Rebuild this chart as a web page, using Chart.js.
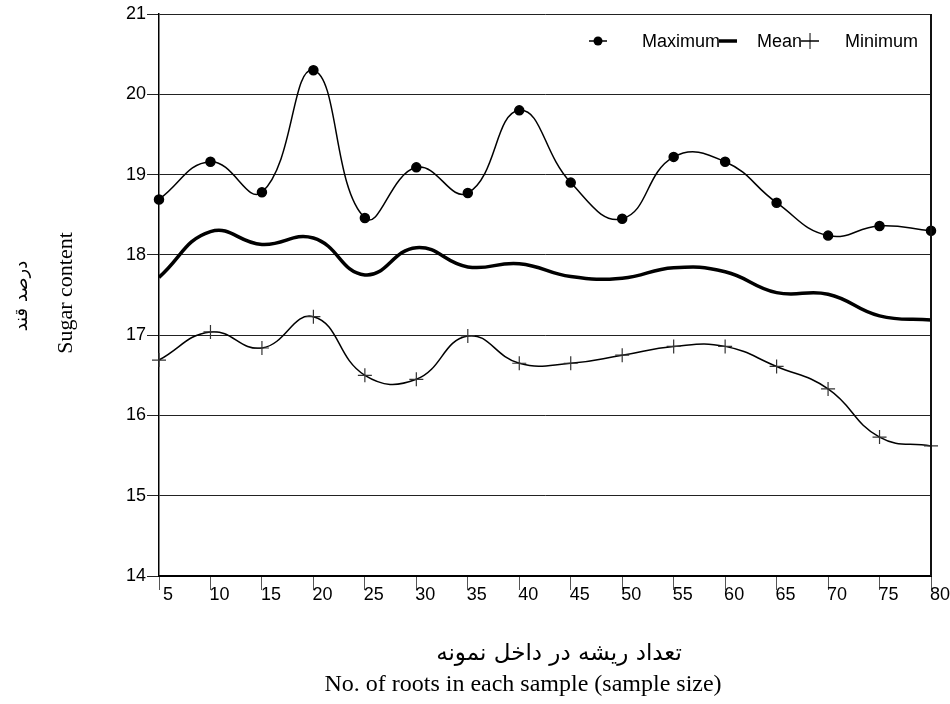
<!DOCTYPE html>
<html>
<head>
<meta charset="utf-8">
<script src="https://cdn.jsdelivr.net/npm/chart.js@4.4.1/dist/chart.umd.min.js"></script>
<style>
  html, body { margin: 0; padding: 0; background: #fff; }
  #wrap { width: 950px; height: 704px; }
</style>
</head>
<body>
<div id="wrap"><canvas id="sugar-chart" width="950" height="704"></canvas></div>
<script>
// sample size (x axis)
var sampleSizes = ['5', '10', '15', '20', '25', '30', '35', '40', '45', '50', '55', '60', '65', '70', '75', '80'];

// sugar content
var maximumValues = [18.69, 19.16, 18.78, 20.30, 18.46, 19.09, 18.77, 19.80, 18.90, 18.45, 19.22, 19.16, 18.65, 18.24, 18.36, 18.30];
var meanValues    = [17.72, 18.29, 18.13, 18.21, 17.75, 18.09, 17.85, 17.89, 17.73, 17.71, 17.84, 17.79, 17.53, 17.51, 17.24, 17.19];
var minimumValues = [16.69, 17.04, 16.84, 17.23, 16.50, 16.45, 16.99, 16.65, 16.65, 16.75, 16.86, 16.86, 16.61, 16.33, 15.73, 15.62];

var yTicks = [14, 15, 16, 17, 18, 19, 20, 21];

var legendNames = ['Maximum', 'Mean', 'Minimum'];

var persianYTitle = 'درصد قند';
var englishYTitle = 'Sugar content';
var persianXTitle = 'تعداد ریشه در داخل نمونه';
var englishXTitle = 'No. of roots in each sample (sample size)';

// right hand frame line + axis titles
var framePlugin = {
  id: 'frame',
  afterDraw: function(chart) {
    var ctx = chart.ctx;
    var area = chart.chartArea;
    ctx.save();
    ctx.strokeStyle = '#111';
    ctx.lineWidth = 2;
    ctx.beginPath();
    ctx.moveTo(area.right, area.top);
    ctx.lineTo(area.right, area.bottom);
    ctx.stroke();

    ctx.fillStyle = '#000';
    ctx.textAlign = 'center';
    ctx.textBaseline = 'middle';

    // x titles
    ctx.font = '23px "DejaVu Sans"';
    ctx.direction = 'rtl';
    ctx.fillText(persianXTitle, 559, 654);
    ctx.direction = 'ltr';
    ctx.font = '24px "Liberation Serif"';
    ctx.fillText(englishXTitle, 523, 685);

    // y titles
    ctx.save();
    ctx.translate(22, 296);
    ctx.rotate(-Math.PI / 2);
    ctx.font = '18px "DejaVu Sans"';
    ctx.direction = 'rtl';
    ctx.fillText(persianYTitle, 0, 0);
    ctx.restore();

    ctx.save();
    ctx.translate(66, 293);
    ctx.rotate(-Math.PI / 2);
    ctx.font = '22px "Liberation Serif"';
    ctx.fillText(englishYTitle, 0, 0);
    ctx.restore();

    ctx.restore();
  }
};

// legend drawn inside the plot, top right
var legendPlugin = {
  id: 'innerLegend',
  afterDraw: function(chart) {
    var ctx = chart.ctx;
    var area = chart.chartArea;
    var y = area.top + 27;
    var x = 589;
    var gaps = [35, 20, 26];
    ctx.save();
    ctx.font = '18px "Liberation Sans"';
    ctx.textBaseline = 'middle';
    ctx.fillStyle = '#000';
    chart.data.datasets.forEach(function(ds, i) {
      ctx.strokeStyle = '#000';
      ctx.lineWidth = ds.borderWidth;
      ctx.beginPath();
      ctx.moveTo(x, y);
      ctx.lineTo(x + 18, y);
      ctx.stroke();
      if (ds.pointStyle === 'circle') {
        ctx.beginPath();
        ctx.arc(x + 9, y, 4.5, 0, Math.PI * 2);
        ctx.fill();
      } else if (ds.pointStyle === 'cross') {
        ctx.lineWidth = 1;
        ctx.beginPath();
        ctx.moveTo(x + 9, y - 8);
        ctx.lineTo(x + 9, y + 8);
        ctx.stroke();
      }
      var tx = x + 18 + gaps[i];
      ctx.fillText(ds.label, tx, y + 1);
      x = tx + ctx.measureText(ds.label).width - 1;
    });
    ctx.restore();
  }
};

var ctx = document.getElementById('sugar-chart');
new Chart(ctx, {
  type: 'line',
  data: {
    labels: sampleSizes,
    datasets: [{
      label: legendNames[0],
      data: maximumValues,
      borderColor: '#000',
      backgroundColor: '#000',
      borderWidth: 1.5,
      pointStyle: 'circle',
      pointRadius: 4.5,
      pointBackgroundColor: '#000',
      pointBorderColor: '#000',
      tension: 0.45,
      clip: false
    }, {
      label: legendNames[1],
      data: meanValues,
      borderColor: '#000',
      borderWidth: 3.5,
      pointRadius: 0,
      pointStyle: false,
      tension: 0.45,
      clip: false
    }, {
      label: legendNames[2],
      data: minimumValues,
      borderColor: '#000',
      borderWidth: 1.5,
      pointStyle: 'cross',
      pointRadius: 7,
      pointBorderWidth: 1.2,
      pointBorderColor: '#333',
      tension: 0.45,
      clip: false
    }]
  },
  options: {
    responsive: false,
    animation: false,
    devicePixelRatio: 1,
    layout: {
      padding: { left: 0, right: 19, top: 14, bottom: 0 }
    },
    plugins: {
      legend: { display: false },
      tooltip: { enabled: false }
    },
    scales: {
      x: {
        type: 'category',
        offset: false,
        grid: {
          display: true,
          drawOnChartArea: false,
          drawTicks: true,
          tickLength: 14,
          color: '#555',
          lineWidth: 1
        },
        border: { display: true, color: '#000', width: 2 },
        ticks: {
          color: '#000',
          font: { family: 'Liberation Sans', size: 18 },
          padding: -6,
          labelOffset: 9,
          maxRotation: 0,
          autoSkip: false
        },
        afterFit: function(scale) { scale.height = 128; }
      },
      y: {
        min: yTicks[0],
        max: yTicks[yTicks.length - 1],
        afterBuildTicks: function(scale) {
          scale.ticks = yTicks.map(function(v) { return { value: v }; });
        },
        grid: {
          color: '#222',
          lineWidth: 1,
          tickLength: 12
        },
        border: { display: true, color: '#000', width: 1.5 },
        ticks: {
          color: '#000',
          font: { family: 'Liberation Sans', size: 18 },
          padding: 1
        },
        afterFit: function(scale) { scale.width = 159; }
      }
    }
  },
  plugins: [framePlugin, legendPlugin]
});
</script>
</body>
</html>
